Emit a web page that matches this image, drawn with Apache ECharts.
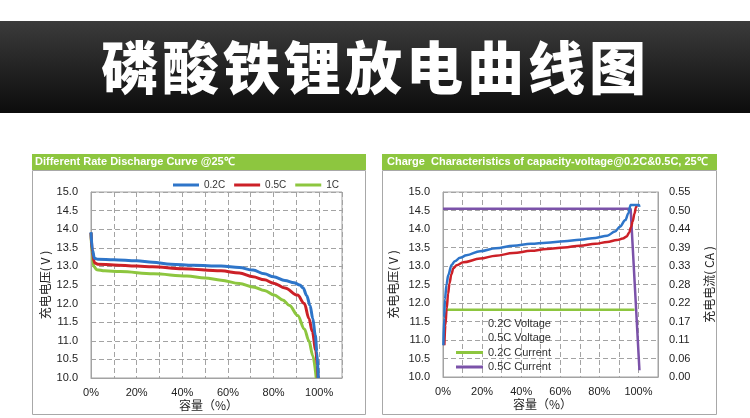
<!DOCTYPE html>
<html>
<head>
<meta charset="utf-8">
<script src="https://cdn.jsdelivr.net/npm/echarts@6/dist/echarts.min.js"></script>
<style>
html,body{margin:0;padding:0;background:#fff;}
#c{width:750px;height:418px;}
</style>
</head>
<body>
<div id="c"></div>
<script>
// ---------- texts ----------
const mainTitle = '磷酸铁锂放电曲线图';
const leftPanelTitle = 'Different Rate Discharge Curve @25℃';
const rightPanelTitle = 'Charge  Characteristics of capacity-voltage@0.2C&0.5C, 25℃';
const voltageAxisName = '充电电压( V )';
const currentAxisName = '充电电流( CA )';
const capacityAxisName = '容量（%）';

// ---------- discharge chart (capacity %, voltage V) ----------
const dischargeNames = ['0.2C', '0.5C', '1C'];
const discharge02 = [[0,13.92],[0.6,13.45],[1.5,13.22],[3,13.19],[10,13.18],[20,13.15],[27,13.11],[35,13.06],[45,13.03],[57,13.01],[65,12.97],[71,12.9],[76,12.8],[80,12.72],[85,12.62],[89,12.56],[91.5,12.5],[93,12.42],[94.5,12.22],[96,11.95],[97.2,11.6],[98.3,11.15],[99,10.7],[99.6,10.0]];
const discharge05 = [[0,13.9],[0.6,13.4],[1.5,13.1],[3,13.06],[10,13.04],[20,13.01],[27,12.99],[40,12.94],[57,12.88],[65,12.82],[71,12.72],[76,12.64],[80,12.55],[85,12.42],[90.5,12.23],[93.5,12.0],[95.5,11.6],[97,11.25],[98.5,10.75],[99.2,10.35],[99.5,10.0]];
const discharge1C = [[0,13.9],[0.5,13.3],[1.2,13.0],[2.5,12.91],[6,12.88],[12.8,12.86],[27.4,12.8],[42,12.74],[50,12.69],[57,12.63],[65,12.54],[71.5,12.44],[76,12.35],[80.3,12.23],[84,12.1],[87,11.95],[90.6,11.68],[93.5,11.32],[95.5,11.0],[97.2,10.6],[98.7,10.0]];

// ---------- charge chart ----------
const chargeNames = ['0.2C Voltage', '0.5C Voltage', '0.2C Current', '0.5C Current'];
const charge02Voltage = [[0.2,10.86],[0.6,11.6],[1,12.1],[1.8,12.5],[2.7,12.76],[4.4,13.03],[6,13.13],[8.7,13.22],[12,13.29],[19,13.4],[27,13.48],[36,13.55],[45,13.6],[53,13.63],[62,13.67],[70,13.71],[78,13.76],[84,13.82],[88,13.93],[90.5,14.06],[93.3,14.24],[94.8,14.42],[96,14.65],[100.3,14.65],[100.5,14.6]];
const charge05Voltage = [[0.7,10.86],[1.2,11.4],[1.9,11.85],[2.6,12.25],[3.3,12.53],[4.3,12.78],[5.3,12.94],[7,13.02],[10.4,13.1],[19,13.2],[27,13.28],[36,13.35],[45,13.41],[53,13.46],[62,13.5],[70,13.55],[78,13.6],[84,13.65],[89,13.7],[92,13.74],[94,13.8],[95.2,13.9],[96.2,14.05],[97,14.2],[98,14.42],[98.7,14.58],[99.2,14.65]];
const charge02Current = [[2,0.2],[98,0.2]];
const charge05Current = [[0,0.5],[96,0.5],[100.5,0.02]];

// ---------- tick labels ----------
const capacityLabelTicks = [0, 20, 40, 60, 80, 100];
const currentTickLabels = ['0.00','0.06','0.11','0.17','0.22','0.28','0.33','0.39','0.44','0.50','0.55'];

// ---------- styles ----------
const C_BLUE = '#2e75c9', C_RED = '#cc2027', C_GREEN = '#8dc63f', C_PURPLE = '#7b52a9';
const GRID_C = '#a3a3a3';
const LATIN = 'Arial, "Liberation Sans", sans-serif';
const CJK = '"Noto Sans CJK SC", sans-serif';

function xAxisCfg(gridIndex) {
  return {
    type: 'value', gridIndex, min: 0, max: 110, interval: 10,
    axisLine: { show: true, lineStyle: { color: GRID_C } },
    axisTick: { show: false },
    splitLine: { show: true, lineStyle: { color: GRID_C, type: [5, 3], width: 1 } },
    axisLabel: {
      margin: 9, fontSize: 11, color: '#222', fontFamily: LATIN,
      formatter: v => capacityLabelTicks.indexOf(Math.round(v)) >= 0 ? Math.round(v) + '%' : ''
    },
    name: capacityAxisName, nameLocation: 'middle', nameGap: 21,
    nameTextStyle: { fontSize: 12, color: '#222', fontFamily: CJK, padding: [0, 16, 0, 0] }
  };
}
function voltAxisCfg(gridIndex, gap) {
  return {
    type: 'value', gridIndex, min: 10, max: 15, interval: 0.5, position: 'left',
    axisLine: { show: true, lineStyle: { color: GRID_C } },
    axisTick: { show: false },
    splitLine: { show: true, lineStyle: { color: GRID_C, type: [5, 3], width: 1 } },
    axisLabel: { margin: 13, fontSize: 11, color: '#222', fontFamily: LATIN, formatter: v => v.toFixed(1) },
    name: voltageAxisName, nameLocation: 'middle', nameRotate: 90, nameGap: gap,
    nameTextStyle: { fontSize: 12, color: '#222', fontFamily: CJK }
  };
}
function lineSeries(name, data, color, xi, yi, width, smooth) {
  return {
    type: 'line', name, data, xAxisIndex: xi, yAxisIndex: yi,
    symbol: 'none', showSymbol: false, smooth: smooth ? 0.35 : false, smoothMonotone: 'x',
    lineStyle: { color, width }, itemStyle: { color }, z: 3
  };
}

const titleChars = mainTitle.split('').map((ch, i) => ({
  type: 'text', x: 129.5 + i * 61, y: 67,
  style: { text: ch, fill: '#fff', font: '900 57px "Noto Sans CJK SC", sans-serif', textAlign: 'center', textVerticalAlign: 'middle' },
  z: 10
}));

const option = {
  animation: false,
  backgroundColor: '#fff',
  graphic: [
    { type: 'rect', shape: { x: 0, y: 21, width: 750, height: 92 },
      style: { fill: new echarts.graphic.LinearGradient(0, 0, 0, 1, [{ offset: 0, color: '#3b3b3b' }, { offset: 1, color: '#0c0c0c' }]) }, z: 1 },
    ...titleChars,
    { type: 'rect', shape: { x: 32, y: 154, width: 334, height: 16 }, style: { fill: C_GREEN }, z: 1 },
    { type: 'text', x: 35, y: 162, style: { text: leftPanelTitle, fill: '#fff', font: 'bold 11px ' + LATIN, textVerticalAlign: 'middle' }, z: 2 },
    { type: 'rect', shape: { x: 32.5, y: 170.5, width: 333, height: 244 }, style: { fill: null, stroke: '#a8a8a8', lineWidth: 1 }, z: 1 },
    { type: 'rect', shape: { x: 382, y: 154, width: 335, height: 16 }, style: { fill: C_GREEN }, z: 1 },
    { type: 'text', x: 387, y: 162, style: { text: rightPanelTitle, fill: '#fff', font: 'bold 11px ' + LATIN, textVerticalAlign: 'middle' }, z: 2 },
    { type: 'rect', shape: { x: 382.5, y: 170.5, width: 334, height: 244 }, style: { fill: null, stroke: '#a8a8a8', lineWidth: 1 }, z: 1 }
  ],
  grid: [
    { left: 91, top: 192, width: 251, height: 186, show: true, borderColor: GRID_C, borderWidth: 1, backgroundColor: 'transparent' },
    { left: 443, top: 192, width: 215, height: 185, show: true, borderColor: GRID_C, borderWidth: 1, backgroundColor: 'transparent' }
  ],
  legend: [
    {
      data: dischargeNames.map(n => ({ name: n, icon: 'rect' })),
      left: 173, top: 179, padding: 0, itemWidth: 26, itemHeight: 3, itemGap: 9,
      textStyle: { fontSize: 10, color: '#333', fontFamily: LATIN, lineHeight: 12 }
    },
    {
      data: [
        { name: chargeNames[0], icon: 'rect', itemStyle: { opacity: 0 } },
        { name: chargeNames[1], icon: 'rect', itemStyle: { opacity: 0 } },
        { name: chargeNames[2], icon: 'rect' },
        { name: chargeNames[3], icon: 'rect' }
      ],
      orient: 'vertical', left: 456, top: 317, padding: 0, itemWidth: 27, itemHeight: 3, itemGap: 1.5,
      textStyle: { fontSize: 11, color: '#333', fontFamily: LATIN, lineHeight: 13 }
    }
  ],
  xAxis: [xAxisCfg(0), xAxisCfg(1)],
  yAxis: [
    voltAxisCfg(0, 40),
    voltAxisCfg(1, 44),
    {
      type: 'value', gridIndex: 1, min: 0, max: 0.55, interval: 0.055, position: 'right',
      axisLine: { show: true, lineStyle: { color: GRID_C } },
      axisTick: { show: false }, splitLine: { show: false },
      axisLabel: { margin: 11, fontSize: 11, color: '#222', fontFamily: LATIN,
        formatter: v => currentTickLabels[Math.round(v / 0.055)] || '' },
      name: currentAxisName, nameLocation: 'middle', nameRotate: 90, nameGap: 45,
      nameTextStyle: { fontSize: 12, color: '#222', fontFamily: CJK }
    }
  ],
  series: [
    lineSeries(dischargeNames[2], discharge1C, C_GREEN, 0, 0, 3, true),
    lineSeries(dischargeNames[1], discharge05, C_RED, 0, 0, 3, true),
    lineSeries(dischargeNames[0], discharge02, C_BLUE, 0, 0, 3, true),
    lineSeries(chargeNames[2], charge02Current, C_GREEN, 1, 2, 2.5, false),
    lineSeries(chargeNames[3], charge05Current, C_PURPLE, 1, 2, 2.5, false),
    lineSeries(chargeNames[1], charge05Voltage, C_RED, 1, 1, 2.5, true),
    lineSeries(chargeNames[0], charge02Voltage, C_BLUE, 1, 1, 2.5, true)
  ]
};

const chart = echarts.init(document.getElementById('c'));
chart.setOption(option);
</script>
</body>
</html>
